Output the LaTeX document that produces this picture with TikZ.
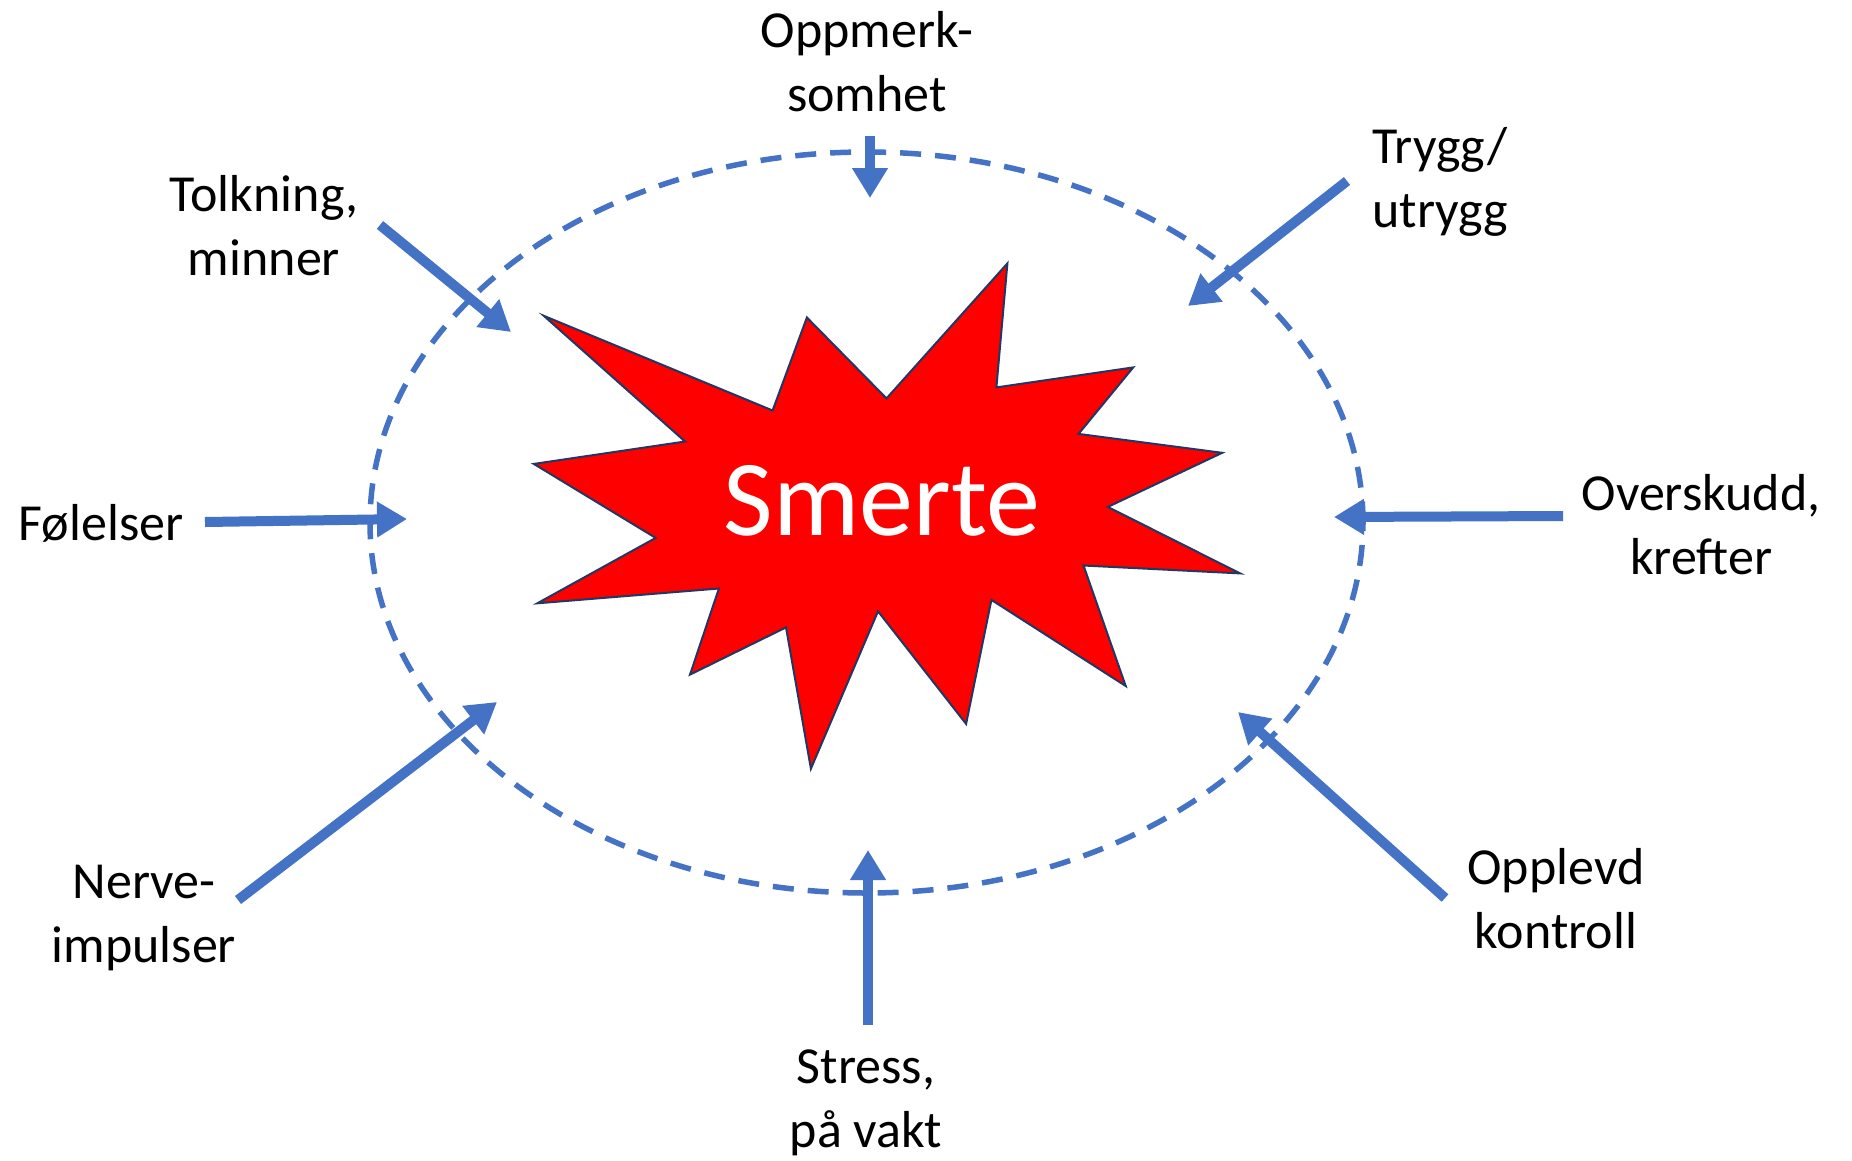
\documentclass[tikz,border=0pt]{standalone}
\usepackage{fontspec}
\setmainfont{Carlito}
\usetikzlibrary{arrows.meta}
\definecolor{pblue}{HTML}{4472C4}
\definecolor{pnavy}{HTML}{1F3864}
\definecolor{pred}{HTML}{FF0000}
\begin{document}
\begin{tikzpicture}[x=1pt,y=-1pt,
  lbl/.style={anchor=base, inner sep=0pt, font=\fontsize{52}{64}\selectfont},
  infl/.style={draw=pblue, line width=10pt, -{Triangle[length=30pt,width=34pt]}},
  ring/.style={draw=pblue, line width=5.5pt, dash pattern=on 21pt off 14pt},
  burst/.style={draw=pnavy, line width=2pt, fill=pred, line join=miter},
  ]
\useasboundingbox (0,0) rectangle (1852,1160);
\fill[white] (0,0) rectangle (1852,1160);

% dashed ring
\draw[ring] (866.5,522.5) ellipse [x radius=496.5pt, y radius=370.5pt];

% starburst
\draw[burst] (543.8,315.8) -- (685.0,441.5) -- (533.8,463.9) -- (655.7,537.9)
  -- (537.3,603.3) -- (718.9,588.5) -- (690.0,674.6) -- (786.0,627.4)
  -- (810.9,768.7) -- (878.0,611.3) -- (966.1,723.9) -- (991.4,599.9)
  -- (1125.7,686.0) -- (1083.5,565.5) -- (1240.1,573.4) -- (1107.8,506.9)
  -- (1222.2,452.8) -- (1078.5,433.9) -- (1133.2,367.4) -- (996.4,387.4)
  -- (1007.4,263.4) -- (886.5,398.4) -- (806.9,317.5) -- (772.6,410.5) -- cycle;
\node[anchor=base, inner sep=0pt, text=white, font=\fontsize{108}{130}\selectfont] (smerte) at (881.8,535.5) {Smerte};

% labels
\node[lbl] (oppm) at (867,47) {\begin{tabular}[t]{@{}c@{}}Oppmerk-\\somhet\end{tabular}};
\node[lbl] (trygg) at (1440,163) {\begin{tabular}[t]{@{}c@{}}Trygg/\\utrygg\end{tabular}};
\node[lbl] (tolk) at (264,211) {\begin{tabular}[t]{@{}c@{}}Tolkning,\\minner\end{tabular}};
\node[lbl] (folel) at (101,540) {Følelser};
\node[lbl] (nerve) at (144,898) {\begin{tabular}[t]{@{}c@{}}Nerve-\\impulser\end{tabular}};
\node[lbl] (stress) at (866,1083) {\begin{tabular}[t]{@{}c@{}}Stress,\\på vakt\end{tabular}};
\node[lbl] (opplevd) at (1556,884) {\begin{tabular}[t]{@{}c@{}}Opplevd\\kontroll\end{tabular}};
\node[lbl] (oversk) at (1701,510) {\begin{tabular}[t]{@{}c@{}}Overskudd,\\krefter\end{tabular}};

% arrow end points
\coordinate (oppm-s) at (870,136);   \coordinate (oppm-t) at (870,198);
\coordinate (tolk-s) at (380,225);   \coordinate (tolk-t) at (511,332);
\coordinate (folel-s) at (205,522);  \coordinate (folel-t) at (407,519);
\coordinate (nerve-s) at (238,900);  \coordinate (nerve-t) at (497,702);
\coordinate (stress-s) at (868,1025); \coordinate (stress-t) at (868,850);
\coordinate (opplevd-s) at (1445,898); \coordinate (opplevd-t) at (1238,712);
\coordinate (oversk-s) at (1563,516); \coordinate (oversk-t) at (1334,517);
\coordinate (trygg-s) at (1347,181); \coordinate (trygg-t) at (1188,306);

\draw[infl] (oppm-s) -- (oppm-t);
\draw[infl] (tolk-s) -- (tolk-t);
\draw[infl] (folel-s) -- (folel-t);
\draw[infl] (nerve-s) -- (nerve-t);
\draw[infl] (stress-s) -- (stress-t);
\draw[infl] (opplevd-s) -- (opplevd-t);
\draw[infl] (oversk-s) -- (oversk-t);
\draw[infl] (trygg-s) -- (trygg-t);
\end{tikzpicture}
\end{document}
